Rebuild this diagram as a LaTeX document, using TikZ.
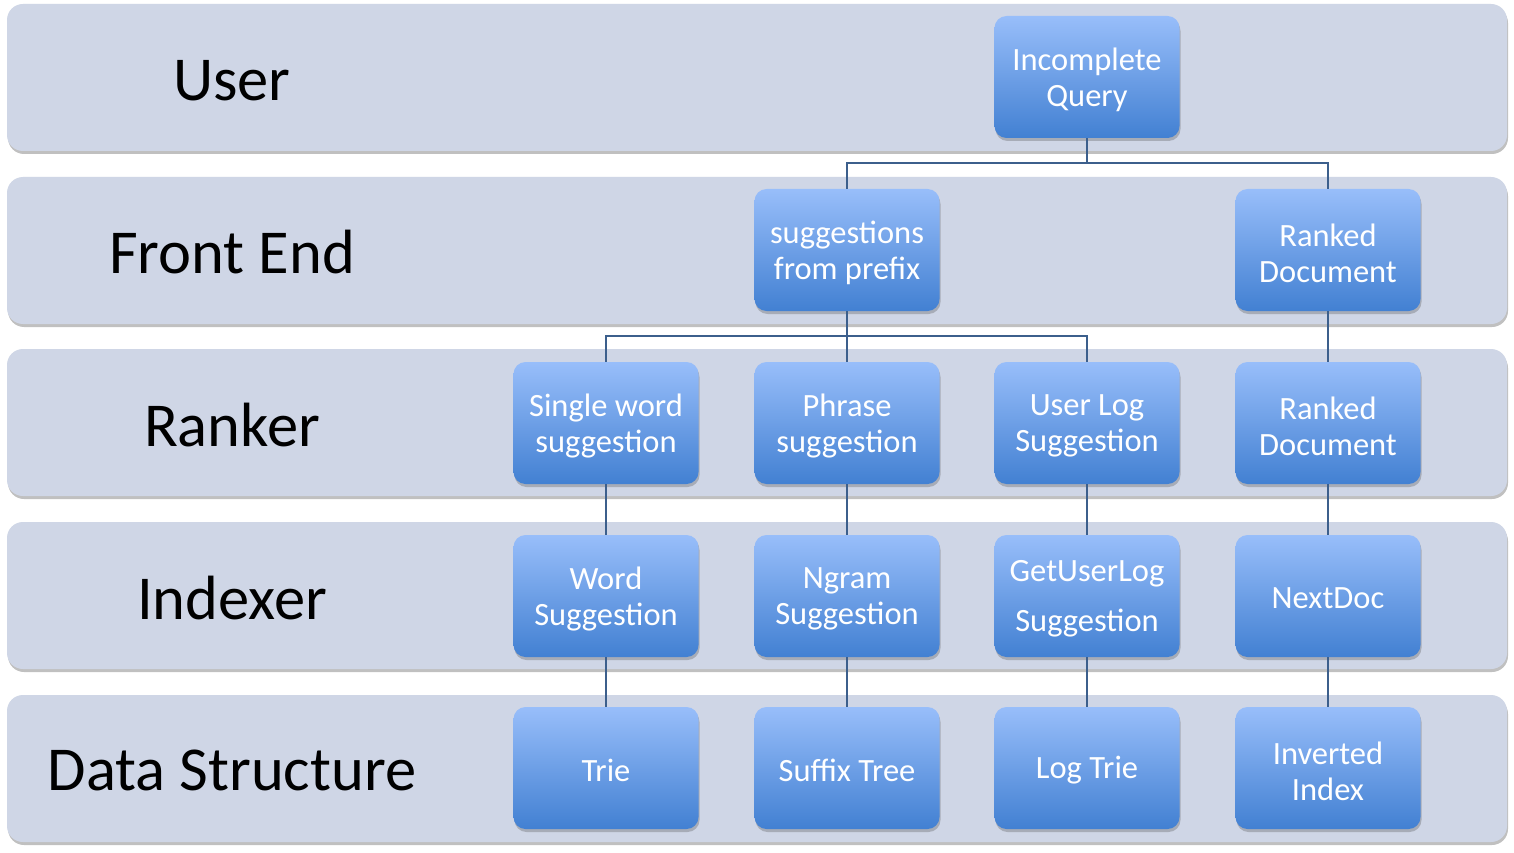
\documentclass[tikz,border=0pt]{standalone}
\usepackage{fontspec}
\setmainfont{Carlito}
\usetikzlibrary{shadows}
\definecolor{bandc}{RGB}{207,214,230}
\definecolor{boxtop}{RGB}{152,190,250}
\definecolor{boxbot}{RGB}{66,128,210}
\definecolor{linec}{RGB}{60,95,140}
\begin{document}
\begin{tikzpicture}[x=1pt,y=-1pt,
  band/.style={fill=bandc, rounded corners=16pt, minimum width=1500pt, minimum height=147pt, inner sep=0pt,
    drop shadow={shadow xshift=1pt, shadow yshift=-3pt, opacity=0.35, fill=black!70}},
  lbl/.style={font=\fontsize{62.5}{68}\selectfont, text=black, inner sep=0pt},
  box/.style={rounded corners=12pt, top color=boxtop, bottom color=boxbot, draw=none,
    minimum width=185pt, minimum height=122pt, inner sep=0pt,
    drop shadow={shadow xshift=1pt, shadow yshift=-3pt, opacity=0.3, fill=black!70}},
  btext/.style={text=white, align=center, inner sep=0pt, font=\fontsize{32.5}{36}\selectfont},
  conn/.style={draw=linec, line width=1.5pt}]
\useasboundingbox (0,0) rectangle (1514,853);
\fill[white] (0,0) rectangle (1514,853);
% bands
\node[band] (b1) at (757,77.5) {};
\node[band] (b2) at (757,250.5) {};
\node[band] (b3) at (757,422.5) {};
\node[band] (b4) at (757,595.5) {};
\node[band] (b5) at (757,768.5) {};
% labels
\node[lbl] (l1) at (232,81) {User};
\node[lbl] (l2) at (232,252) {Front End};
\node[lbl] (l3) at (232,425) {Ranker};
\node[lbl] (l4) at (232,598) {Indexer};
\node[lbl] (l5) at (232,770) {Data Structure};
% boxes
\node[box] (q) at (1087,77) {};
\node[box] (fs) at (847,250) {};
\node[box] (fr) at (1328,250) {};
\node[box] (r1) at (606,423) {};
\node[box] (r2) at (847,423) {};
\node[box] (r3) at (1087,423) {};
\node[box] (r4) at (1328,423) {};
\node[box] (i1) at (606,596) {};
\node[box] (i2) at (847,596) {};
\node[box] (i3) at (1087,596) {};
\node[box] (i4) at (1328,596) {};
\node[box] (d1) at (606,768) {};
\node[box] (d2) at (847,768) {};
\node[box] (d3) at (1087,768) {};
\node[box] (d4) at (1328,768) {};
% box texts
\node[btext] (tq) at ([yshift=-3pt]q.center) {Incomplete\\Query};
\node[btext] (tfs) at ([yshift=-3pt]fs.center) {suggestions\\from prefix};
\node[btext] (tfr) at ([yshift=-3pt]fr.center) {Ranked\\Document};
\node[btext] (tr1) at ([yshift=-3pt]r1.center) {Single word\\suggestion};
\node[btext] (tr2) at ([yshift=-3pt]r2.center) {Phrase\\suggestion};
\node[btext] (tr3) at ([yshift=-3pt]r3.center) {User Log\\Suggestion};
\node[btext] (tr4) at ([yshift=-3pt]r4.center) {Ranked\\Document};
\node[btext] (ti1) at ([yshift=-3pt]i1.center) {Word\\Suggestion};
\node[btext] (ti2) at ([yshift=-3pt]i2.center) {Ngram\\Suggestion};
\node[btext] (ti3) at ([yshift=-3pt]i3.center) {GetUserLog\\[14pt]Suggestion};
\node[btext] (ti4) at ([yshift=-2pt]i4.center) {NextDoc};
\node[btext] (td1) at ([yshift=-2pt]d1.center) {Trie};
\node[btext] (td2) at ([yshift=-2pt]d2.center) {Suffix Tree};
\node[btext] (td3) at ([yshift=-2pt]d3.center) {Log Trie};
\node[btext] (td4) at ([yshift=-3pt]d4.center) {Inverted\\Index};
% connectors
\coordinate (j1) at (1087,163);
\coordinate (j2) at (847,336);
\begin{scope}[on background layer/.style={}]
\draw[conn] (q.south) -- (j1);
\draw[conn] (j1) -| (fs.north);
\draw[conn] (j1) -| (fr.north);
\draw[conn] (fs.south) -- (j2);
\draw[conn] (j2) -| (r1.north);
\draw[conn] (j2) -- (r2.north);
\draw[conn] (j2) -| (r3.north);
\draw[conn] (fr.south) -- (r4.north);
\draw[conn] (r1.south) -- (i1.north);
\draw[conn] (r2.south) -- (i2.north);
\draw[conn] (r3.south) -- (i3.north);
\draw[conn] (r4.south) -- (i4.north);
\draw[conn] (i1.south) -- (d1.north);
\draw[conn] (i2.south) -- (d2.north);
\draw[conn] (i3.south) -- (d3.north);
\draw[conn] (i4.south) -- (d4.north);
\end{scope}
\end{tikzpicture}
\end{document}
